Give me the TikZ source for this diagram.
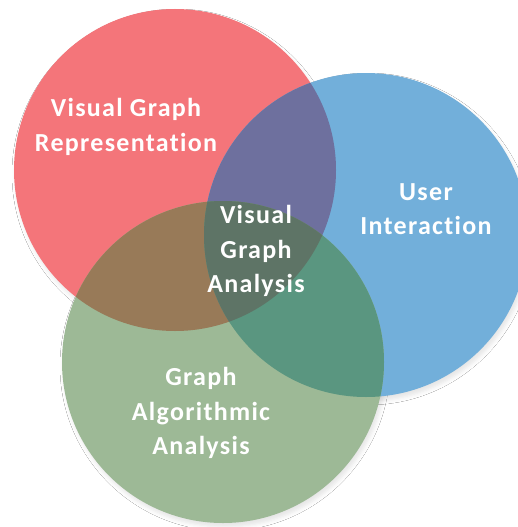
\documentclass[tikz,border=0pt]{standalone}
\usepackage{fontspec}
\setmainfont{Carlito}[LetterSpace=5, Ligatures=NoCommon]
\usetikzlibrary{shadows.blur}
\definecolor{redc}{HTML}{F4757A}
\definecolor{bluec}{HTML}{72AFDA}
\definecolor{greenc}{HTML}{9DB996}
\definecolor{rbc}{HTML}{6E709E}
\definecolor{rgc}{HTML}{987A58}
\definecolor{bgc}{HTML}{5A9680}
\definecolor{allc}{HTML}{5E7466}
\definecolor{shadowc}{HTML}{5070B0}
\tikzset{
  label text/.style={text=white, align=center, inner sep=0pt,
    font=\fontsize{26}{34.5}\selectfont\bfseries},
  soft shadow/.style={blur shadow={shadow xshift=2pt, shadow yshift=-4pt,
    shadow blur radius=4pt, shadow opacity=10}}
}
\begin{document}
\begin{tikzpicture}[x=1pt, y=-1pt]
  \clip (0,0) rectangle (518,527);
  \fill[white] (0,0) rectangle (518,527);
  \coordinate (cR) at (175,170);
  \coordinate (cB) at (366,235);
  \coordinate (cG) at (223,362);
  \def\rR{161pt}\def\rB{162pt}\def\rG{161pt}
  % soft shadows under the three discs
  \path[soft shadow] (cR) circle[radius=\rR];
  \path[soft shadow] (cB) circle[radius=\rB];
  \path[soft shadow] (cG) circle[radius=\rG];
  % discs
  \fill[redc] (cR) circle[radius=\rR];
  \fill[bluec] (cB) circle[radius=\rB];
  \fill[greenc] (cG) circle[radius=\rG];
  % pairwise overlaps
  \begin{scope}
    \clip (cR) circle[radius=\rR];
    \fill[rbc] (cB) circle[radius=\rB];
    \fill[rgc] (cG) circle[radius=\rG];
  \end{scope}
  \begin{scope}
    \clip (cB) circle[radius=\rB];
    \fill[bgc] (cG) circle[radius=\rG];
  \end{scope}
  % common region
  \begin{scope}
    \clip (cR) circle[radius=\rR];
    \clip (cB) circle[radius=\rB];
    \fill[allc] (cG) circle[radius=\rG];
  \end{scope}
  % labels
  \node[label text] (rep) at (126,127) {Visual Graph\\Representation};
  \node[label text] (user) at (426,209) {User\\Interaction};
  \node[label text] (vga) at (256,251) {Visual\\Graph\\Analysis};
  \node[label text] (gaa) at (201,413) {Graph\\Algorithmic\\Analysis};
\end{tikzpicture}
\end{document}
